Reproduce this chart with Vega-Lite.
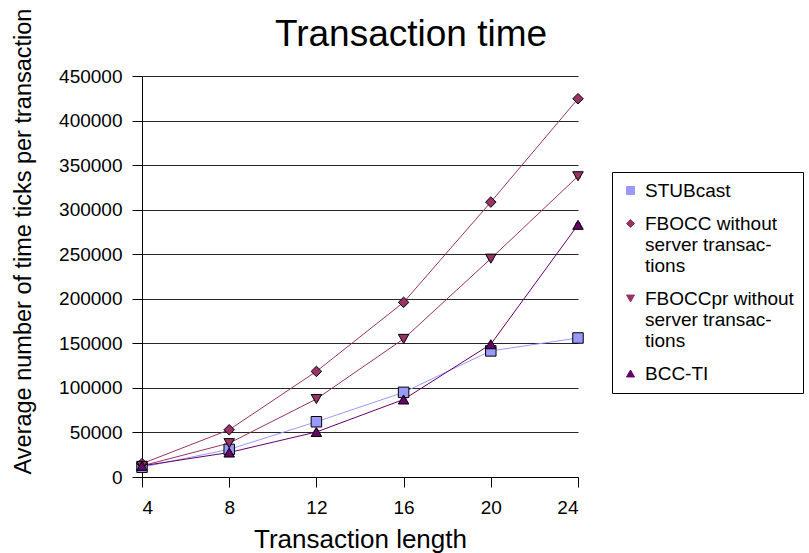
{
  "$schema": "https://vega.github.io/schema/vega-lite/v6.json",
  "width": 436,
  "height": 401,
  "autosize": {"type": "none"},
  "padding": {"left": 142, "top": 76, "right": 231, "bottom": 76},
  "background": "white",
  "title": {
    "text": "Transaction time",
    "fontSize": 37,
    "font": "Liberation Sans",
    "fontWeight": "normal",
    "color": "#000",
    "anchor": "middle",
    "frame": "group",
    "baseline": "alphabetic",
    "dx": 51,
    "offset": -75
  },
  "data": {
    "values": [
      {"len": 4, "series": "STUBcast", "ticks": 11000},
      {"len": 8, "series": "STUBcast", "ticks": 31000},
      {"len": 12, "series": "STUBcast", "ticks": 62000},
      {"len": 16, "series": "STUBcast", "ticks": 95000},
      {"len": 20, "series": "STUBcast", "ticks": 141500},
      {"len": 24, "series": "STUBcast", "ticks": 156000},
      {"len": 4, "series": "FBOCC without server transactions", "ticks": 15000},
      {"len": 8, "series": "FBOCC without server transactions", "ticks": 53000},
      {"len": 12, "series": "FBOCC without server transactions", "ticks": 118500},
      {"len": 16, "series": "FBOCC without server transactions", "ticks": 196000},
      {"len": 20, "series": "FBOCC without server transactions", "ticks": 308500},
      {"len": 24, "series": "FBOCC without server transactions", "ticks": 424500},
      {"len": 4, "series": "FBOCCpr without server transactions", "ticks": 12500},
      {"len": 8, "series": "FBOCCpr without server transactions", "ticks": 38000},
      {"len": 12, "series": "FBOCCpr without server transactions", "ticks": 87500},
      {"len": 16, "series": "FBOCCpr without server transactions", "ticks": 155000},
      {"len": 20, "series": "FBOCCpr without server transactions", "ticks": 245000},
      {"len": 24, "series": "FBOCCpr without server transactions", "ticks": 337500},
      {"len": 4, "series": "BCC-TI", "ticks": 12500},
      {"len": 8, "series": "BCC-TI", "ticks": 27500},
      {"len": 12, "series": "BCC-TI", "ticks": 50500},
      {"len": 16, "series": "BCC-TI", "ticks": 87000},
      {"len": 20, "series": "BCC-TI", "ticks": 149000},
      {"len": 24, "series": "BCC-TI", "ticks": 283000}
    ]
  },
  "encoding": {
    "x": {
      "field": "len",
      "type": "quantitative",
      "scale": {"domain": [4, 24], "nice": false, "zero": false},
      "axis": {
        "values": [4, 8, 12, 16, 20, 24],
        "title": "Transaction length",
        "grid": false,
        "tickSize": 10,
        "labelPadding": 11,
        "titleFontSize": 26,
        "titlePadding": 9
      }
    },
    "y": {
      "field": "ticks",
      "type": "quantitative",
      "scale": {"domain": [0, 450000], "nice": false},
      "axis": {
        "values": [0, 50000, 100000, 150000, 200000, 250000, 300000, 350000, 400000, 450000],
        "format": "d",
        "title": "Average number of time ticks per transaction",
        "grid": true,
        "tickSize": 10,
        "labelPadding": 10,
        "titleFontSize": 23.5,
        "titleX": -119,
        "titleY": 165,
        "titleAngle": -90,
        "titleAlign": "center",
        "titleBaseline": "middle"
      }
    },
    "color": {
      "field": "series",
      "type": "nominal",
      "scale": {
        "domain": ["STUBcast", "FBOCC without server transactions", "FBOCCpr without server transactions", "BCC-TI"],
        "range": ["#9999FF", "#993366", "#993366", "#660066"]
      },
      "legend": {
        "title": null,
        "orient": "none",
        "legendX": 470,
        "legendY": 96,
        "strokeColor": "#000",
        "padding": 9,
        "symbolSize": 64,
        "symbolStrokeColor": "#000",
        "symbolStrokeWidth": 1,
        "labelFontSize": 19,
        "labelLimit": 300,
        "labelOffset": 5,
        "rowPadding": 13,
        "labelExpr": "datum.label == 'FBOCC without server transactions' ? ['FBOCC without', 'server transac-', 'tions'] : datum.label == 'FBOCCpr without server transactions' ? ['FBOCCpr without', 'server transac-', 'tions'] : datum.label",
        "encode": {"symbols": {"update": {"stroke": {"value": "#000"}, "strokeWidth": {"value": 1}}}}
      }
    },
    "shape": {
      "field": "series",
      "type": "nominal",
      "scale": {
        "domain": ["STUBcast", "FBOCC without server transactions", "FBOCCpr without server transactions", "BCC-TI"],
        "range": ["square", "diamond", "triangle-down", "triangle-up"]
      },
      "legend": {
        "title": null,
        "orient": "none",
        "legendX": 470,
        "legendY": 96,
        "strokeColor": "#000",
        "padding": 9,
        "symbolSize": 64,
        "symbolStrokeColor": "#000",
        "symbolStrokeWidth": 1,
        "labelFontSize": 19,
        "labelLimit": 300,
        "labelOffset": 5,
        "rowPadding": 13,
        "labelExpr": "datum.label == 'FBOCC without server transactions' ? ['FBOCC without', 'server transac-', 'tions'] : datum.label == 'FBOCCpr without server transactions' ? ['FBOCCpr without', 'server transac-', 'tions'] : datum.label",
        "encode": {"symbols": {"update": {"stroke": {"value": "#000"}, "strokeWidth": {"value": 1}}}}
      }
    }
  },
  "layer": [
    {
      "mark": {"type": "line", "strokeWidth": 1},
      "encoding": {"shape": {"value": "circle"}}
    },
    {
      "mark": {"type": "point", "filled": true, "opacity": 1, "stroke": "#000", "strokeWidth": 1, "size": 110}
    }
  ],
  "config": {
    "view": {"stroke": null},
    "font": "Liberation Sans",
    "axis": {
      "domainColor": "#000",
      "tickColor": "#000",
      "gridColor": "#000",
      "gridOpacity": 0.85,
      "labelColor": "#000",
      "titleColor": "#000",
      "labelFont": "Liberation Sans",
      "titleFont": "Liberation Sans",
      "labelFontSize": 19,
      "titleFontWeight": "normal"
    },
    "legend": {
      "labelFont": "Liberation Sans",
      "labelColor": "#000"
    }
  }
}
